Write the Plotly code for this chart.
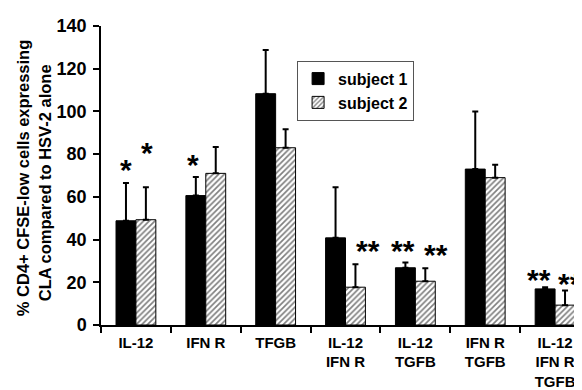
import plotly.graph_objects as go

categories = ["IL-12", "IFN R", "TFGB", "IL-12<br>IFN R", "IL-12<br>TGFB", "IFN R<br>TGFB", "IL-12<br>IFN R<br>TGFB"]
subject1 = [48.8, 60.6, 108.3, 40.8, 26.8, 73.0, 16.9]
subject1_err = [17.7, 8.7, 20.5, 23.7, 2.5, 27.0, 0.8]
subject2 = [49.3, 71.0, 83.0, 17.7, 20.5, 69.0, 9.3]
subject2_err = [15.2, 12.3, 8.7, 10.8, 6.1, 6.0, 6.8]

# significance marks: (category index, subject, label, y position)
marks = [
    (0, 1, "*", 73), (0, 2, "*", 81), (1, 1, "*", 75),
    (3, 2, "**", 35), (4, 1, "**", 35), (4, 2, "**", 33),
    (6, 1, "**", 21.5), (6, 2, "**", 19.5),
]
mark_xshift = [0, 1, -3, 12, -2, 11, -6, 5]

FONT = "Liberation Sans, Arial, sans-serif"

fig = go.Figure()
fig.add_trace(go.Bar(
    x=categories, y=subject1, name="<b>subject 1</b>",
    marker=dict(color="black", line=dict(color="black", width=1)),
    error_y=dict(type="data", array=subject1_err, arrayminus=[0]*len(subject1_err),
                 symmetric=False, color="black", thickness=2, width=3),
))
fig.add_trace(go.Bar(
    x=categories, y=subject2, name="<b>subject 2</b>",
    marker=dict(color="white", line=dict(color="black", width=1),
                pattern=dict(shape="/", fgcolor="black", bgcolor="white", size=4, solidity=0.42)),
    error_y=dict(type="data", array=subject2_err, arrayminus=[0]*len(subject2_err),
                 symmetric=False, color="black", thickness=2, width=3),
))

for (ci, subj, lab, yv), xs in zip(marks, mark_xshift):
    fig.add_annotation(x=categories[ci], y=yv, text=f"<b>{lab}</b>", showarrow=False,
                       xanchor="center", yanchor="middle",
                       xshift=(-10 if subj == 1 else 10) + xs,
                       font=dict(family=FONT, size=30, color="black"))

# y-axis title as two rotated lines
fig.add_annotation(xref="paper", yref="paper", x=-0.1595, y=0.491, textangle=-90,
                   xanchor="center", yanchor="middle",
                   text="<b>% CD4+ CFSE-low cells expressing</b>", showarrow=False,
                   font=dict(family=FONT, size=16.5, color="black"))
fig.add_annotation(xref="paper", yref="paper", x=-0.1145, y=0.474, textangle=-90,
                   xanchor="center", yanchor="middle",
                   text="<b>CLA compared to HSV-2 alone</b>", showarrow=False,
                   font=dict(family=FONT, size=16.5, color="black"))

fig.update_layout(
    width=582, height=390,
    margin=dict(l=93, r=0, t=18, b=73),
    paper_bgcolor="white", plot_bgcolor="white",
    barmode="group", bargap=0.43, bargroupgap=0,
    font=dict(family=FONT, color="black"),
    showlegend=True,
    legend=dict(x=0.401, y=0.884, xanchor="left", yanchor="top",
                bordercolor="#555555", borderwidth=1, bgcolor="white",
                font=dict(family=FONT, size=16, color="black"),
                traceorder="normal", tracegroupgap=0),
)
fig.update_xaxes(
    automargin=False,
    showline=True, linecolor="black", linewidth=1.5,
    ticks="outside", tickson="boundaries", ticklen=6, tickcolor="black", tickwidth=1.5,
    tickfont=dict(family=FONT, size=15, color="black"), ticklabelstandoff=3,
    tickprefix="<b>", ticksuffix="</b>",
)
fig.update_yaxes(
    automargin=False,
    range=[0, 140], dtick=20, showgrid=False, zeroline=False,
    showline=True, linecolor="black", linewidth=1.5,
    ticks="outside", ticklen=6, tickcolor="black", tickwidth=1.5,
    tickfont=dict(family=FONT, size=18, color="black"), ticklabelstandoff=3,
    tickprefix="<b>", ticksuffix="</b>",
)

fig.write_html("out.html")
